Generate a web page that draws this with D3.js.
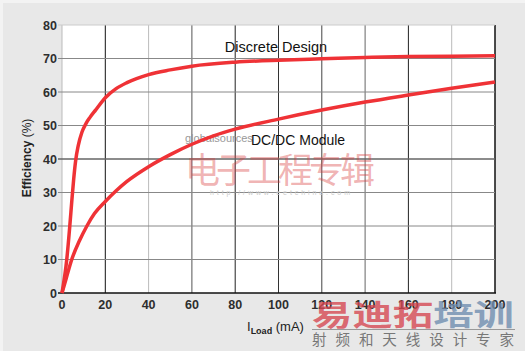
<!DOCTYPE html>
<html>
<head>
<meta charset="utf-8">
<script src="https://cdn.jsdelivr.net/npm/d3@7"></script>
<style>
  body { margin: 0; background: #fff; }
  svg { display: block; font-family: "Liberation Sans", Arial, sans-serif; }
</style>
</head>
<body>
<svg id="chart"></svg>
<script>
// load current in mA
let discreteLoad = [0, 2.2, 3.6, 4.6, 5.4, 6.3, 7.5, 9.2, 11, 13, 15.5, 20, 25, 30, 40, 50, 60, 80, 100, 120, 140, 160, 180, 200]
let discreteEff = [0, 10, 20, 28, 34, 39.5, 44, 48, 50.5, 52.5, 54.6, 58.3, 61, 62.8, 65.2, 66.6, 67.7, 68.9, 69.5, 69.9, 70.3, 70.6, 70.7, 70.8]
let moduleLoad = [0, 2, 4.5, 8, 11.5, 15, 20, 25, 30, 40, 50, 60, 70, 80, 100, 120, 140, 160, 180, 200]
let moduleEff = [0, 4.5, 10, 15.5, 20, 23.7, 27.3, 30.5, 33.3, 37.7, 41.3, 44.4, 46.9, 48.9, 51.9, 54.6, 57, 59.1, 61.1, 63]
let xTicks = [0, 20, 40, 60, 80, 100, 120, 140, 160, 180, 200]
let yTicks = [0, 10, 20, 30, 40, 50, 60, 70, 80]

let width = 525
let height = 351
let svg = d3.select('#chart')
  .attr('width', width)
  .attr('height', height)

svg.append('rect')
  .attr('width', width)
  .attr('height', height)
  .attr('fill', '#f3f3f3')
svg.append('rect')
  .attr('x', 3).attr('y', 3)
  .attr('width', width - 3)
  .attr('height', height - 3)
  .attr('fill', '#e8e8e8')

let x = d3.scaleLinear().domain([0, 200]).range([62, 495])
let y = d3.scaleLinear().domain([0, 80]).range([293, 25])

svg.append('rect')
  .attr('x', x(0)).attr('y', y(80))
  .attr('width', x(200) - x(0))
  .attr('height', y(0) - y(80))
  .attr('fill', '#fff')

// grid, the scan gives the lines uneven darkness
let vShade = ['#bbb', '#111', '#bbb', '#555', '#222', '#333', '#444', '#666', '#222', '#bbb', '#111']
svg.append('g')
  .selectAll('line')
  .data(xTicks)
  .enter()
  .append('line')
  .attr('x1', (d) => x(d)).attr('x2', (d) => x(d))
  .attr('y1', y(80)).attr('y2', y(0))
  .attr('stroke', (d, i) => vShade[i])
  .attr('stroke-width', (d, i) => i === 10 ? 1.5 : 1)

svg.append('g')
  .selectAll('line')
  .data(yTicks.slice(1))
  .enter()
  .append('line')
  .attr('x1', x(0) - 4).attr('x2', x(200))
  .attr('y1', (d) => y(d)).attr('y2', (d) => y(d))
  .attr('stroke', (d) => d === 80 ? '#ccc' : d === 40 ? '#666' : '#888')
  .attr('stroke-width', (d) => d === 40 ? 1.5 : 1)

svg.append('line')
  .attr('x1', x(0) - 4).attr('x2', x(200) + 1)
  .attr('y1', y(0)).attr('y2', y(0))
  .attr('stroke', '#111')
  .attr('stroke-width', 1.5)

// tick labels
svg.append('g')
  .selectAll('text')
  .data(yTicks)
  .enter()
  .append('text')
  .attr('x', 57)
  .attr('y', (d) => y(d) + 4.5)
  .attr('text-anchor', 'end')
  .attr('font-size', 12.5)
  .attr('font-weight', 'bold')
  .attr('fill', '#2e2e2e')
  .text((d) => d)

svg.append('g')
  .selectAll('text')
  .data(xTicks)
  .enter()
  .append('text')
  .attr('x', (d) => x(d))
  .attr('y', 309)
  .attr('text-anchor', 'middle')
  .attr('font-size', 12.5)
  .attr('font-weight', 'bold')
  .attr('fill', '#2e2e2e')
  .text((d) => d)

// axis titles
let yTitle = svg.append('text')
  .attr('transform', 'translate(31,158) rotate(-90)')
  .attr('text-anchor', 'middle')
  .attr('font-size', 12)
  .attr('fill', '#222')
yTitle.append('tspan').attr('font-weight', 'bold').text('Efficiency ')
yTitle.append('tspan').text('(%)')

let xTitle = svg.append('text')
  .attr('x', 247)
  .attr('y', 331)
  .attr('font-size', 13)
  .attr('fill', '#222')
xTitle.append('tspan').text('I')
xTitle.append('tspan').attr('font-size', 9).attr('font-weight', 'bold').attr('dy', 3).text('Load')
xTitle.append('tspan').attr('dy', -3).text(' (mA)')

// watermarks
svg.append('text')
  .attr('x', 185).attr('y', 142)
  .attr('font-size', 11)
  .attr('fill', '#999')
  .text('globalsources')
svg.append('text')
  .attr('x', 185).attr('y', 183)
  .attr('font-family', '"Noto Sans CJK SC"')
  .attr('font-size', 35)
  .attr('textLength', 190)
  .attr('fill', 'rgba(215, 60, 60, 0.4)')
  .text('电子工程专辑')
svg.append('text')
  .attr('x', 210).attr('y', 195)
  .attr('font-size', 7)
  .attr('fill', '#ccc')
  .attr('textLength', 140)
  .text('http://www.eetchina.com')

let line = d3.line()
  .x((d) => x(d[0]))
  .y((d) => y(d[1]))
  .curve(d3.curveMonotoneX)

svg.append('path')
  .datum(d3.zip(discreteLoad, discreteEff))
  .attr('d', line)
  .attr('fill', 'none')
  .attr('stroke', '#ef3236')
  .attr('stroke-width', 3.5)
svg.append('path')
  .datum(d3.zip(moduleLoad, moduleEff))
  .attr('d', line)
  .attr('fill', 'none')
  .attr('stroke', '#ef3236')
  .attr('stroke-width', 3.5)

svg.append('text')
  .attr('x', 276).attr('y', 52)
  .attr('text-anchor', 'middle')
  .attr('font-size', 14.5)
  .attr('fill', '#111')
  .text('Discrete Design')
svg.append('text')
  .attr('x', 251).attr('y', 145)
  .attr('font-size', 14)
  .attr('fill', '#111')
  .text('DC/DC Module')

// bottom right logo
let logo = svg.append('text')
  .attr('x', 312).attr('y', 326)
  .attr('font-family', '"Noto Sans CJK SC"')
  .attr('font-weight', 'bold')
  .attr('font-size', 29)
  .attr('textLength', 202)
  .attr('lengthAdjust', 'spacingAndGlyphs')
logo.append('tspan').attr('fill', 'rgba(214, 70, 80, 0.8)').text('易迪拓')
logo.append('tspan').attr('fill', 'rgba(110, 140, 175, 0.8)').text('培训')
svg.append('line')
  .attr('x1', 312).attr('x2', 515)
  .attr('y1', 329.5).attr('y2', 329.5)
  .attr('stroke', '#999')
svg.append('text')
  .attr('x', 312).attr('y', 345)
  .attr('font-family', '"Noto Sans CJK SC"')
  .attr('font-size', 14.5)
  .attr('textLength', 202)
  .attr('fill', '#777')
  .text('射频和天线设计专家')
</script>
</body>
</html>
